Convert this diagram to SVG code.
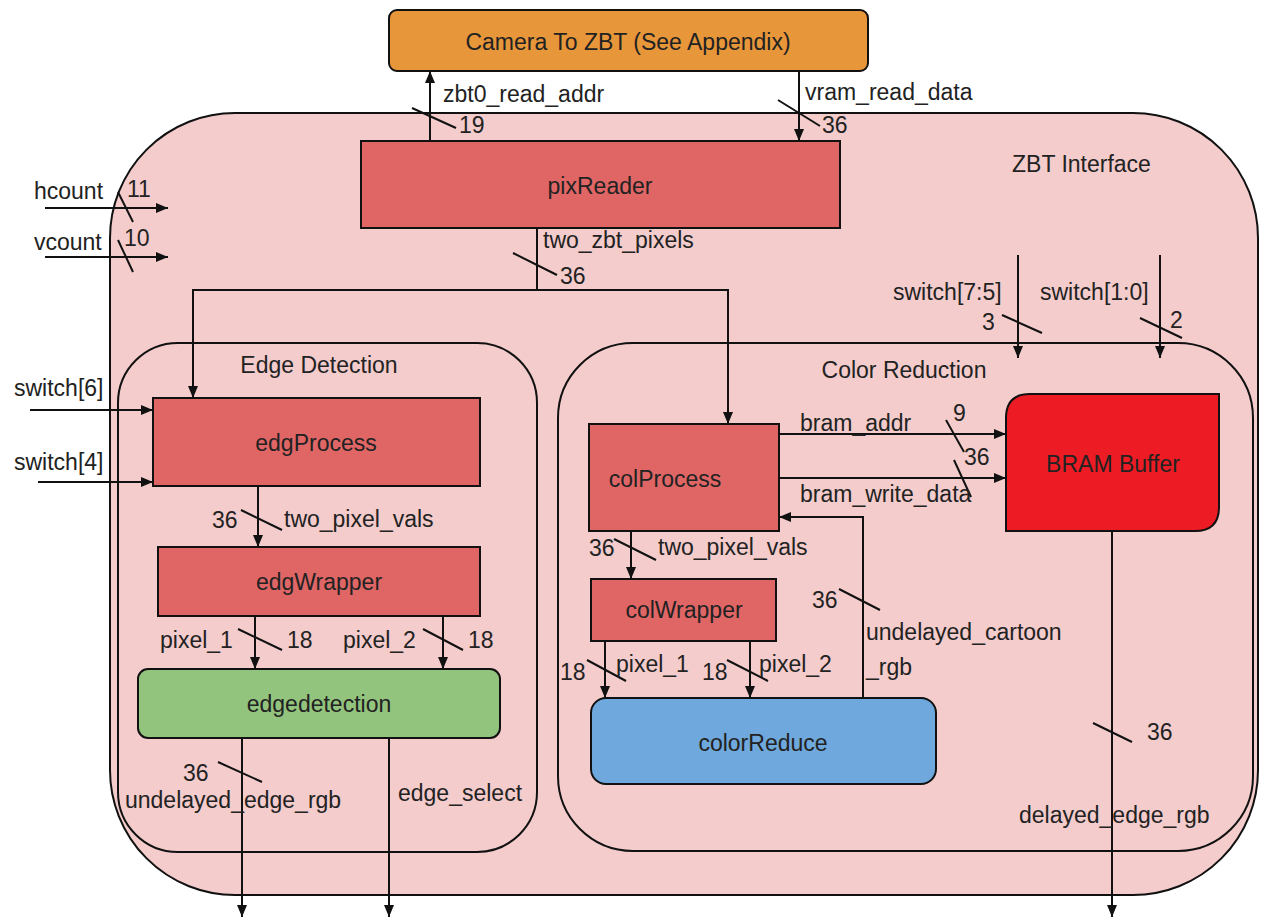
<svg xmlns="http://www.w3.org/2000/svg" width="1262" height="918" viewBox="0 0 1262 918">
<defs>
<marker id="ah" viewBox="0 0 12 10" refX="12" refY="5" markerWidth="12" markerHeight="10" markerUnits="userSpaceOnUse" orient="auto"><path d="M0,0 L12,5 L0,10 z" fill="#111"/></marker>
<style>
text{font-family:"Liberation Sans",Arial,sans-serif;font-size:23px;fill:#222}
.c{text-anchor:middle}
.ln{stroke:#111;stroke-width:2;fill:none}
.ar{stroke:#111;stroke-width:2;fill:none;marker-end:url(#ah)}
.sl{stroke:#111;stroke-width:2}
.box{stroke:#111;stroke-width:2}
</style>
</defs>
<rect width="1262" height="918" fill="#ffffff"/>
<g id="zbt_interface">
<rect x="110" y="113" width="1148" height="782" rx="125" fill="#F4CCCC" stroke="#111" stroke-width="2"/>
<text x="1012" y="172">ZBT Interface</text>
</g>
<g id="edge_detection">
<rect x="118" y="343" width="419" height="509" rx="60" fill="none" stroke="#111" stroke-width="2"/>
<text class="c" x="319" y="373">Edge Detection</text>
</g>
<g id="color_reduction">
<rect x="558" y="343" width="695" height="508" rx="75" fill="none" stroke="#111" stroke-width="2"/>
<text class="c" x="904" y="378">Color Reduction</text>
</g>
<g id="camera">
<rect class="box" x="389" y="10" width="479" height="61" rx="8" fill="#E8963A"/>
<text class="c" x="628" y="50">Camera To ZBT (See Appendix)</text>
</g>
<g id="pixReader">
<rect class="box" x="361" y="141" width="479" height="87" fill="#E06666"/>
<text class="c" x="600" y="194">pixReader</text>
</g>
<g id="edgProcess">
<rect class="box" x="153" y="398" width="327" height="88" fill="#E06666"/>
<text class="c" x="316" y="451">edgProcess</text>
</g>
<g id="edgWrapper">
<rect class="box" x="158" y="547" width="322" height="69" fill="#E06666"/>
<text class="c" x="319" y="590">edgWrapper</text>
</g>
<g id="edgedetection">
<rect class="box" x="138" y="669" width="362" height="69" rx="10" fill="#93C47D"/>
<text class="c" x="319" y="712">edgedetection</text>
</g>
<g id="colProcess">
<rect class="box" x="589" y="424" width="190" height="107" fill="#E06666"/>
<text class="c" x="665" y="487">colProcess</text>
</g>
<g id="colWrapper">
<rect class="box" x="591" y="579" width="185" height="62" fill="#E06666"/>
<text class="c" x="684" y="618">colWrapper</text>
</g>
<g id="colorReduce">
<rect class="box" x="591" y="698" width="345" height="86" rx="15" fill="#6FA8DC"/>
<text class="c" x="763" y="751">colorReduce</text>
</g>
<g id="bram">
<path class="box" d="M1030,394 L1219,394 L1219,507 Q1219,531 1195,531 L1006,531 L1006,418 Q1006,394 1030,394 Z" fill="#ED1C24"/>
<text class="c" x="1113" y="472">BRAM Buffer</text>
</g>
<g id="connectors">
<line class="ar" x1="430" y1="141" x2="430" y2="71"/>
<line class="sl" x1="412" y1="108" x2="456" y2="128"/>
<text x="443" y="102">zbt0_read_addr</text>
<text x="459" y="133">19</text>
<line class="ar" x1="799" y1="71" x2="799" y2="141"/>
<line class="sl" x1="778" y1="100" x2="820" y2="126"/>
<text x="805" y="100">vram_read_data</text>
<text x="822" y="133">36</text>
<line class="ar" x1="45" y1="208" x2="168" y2="208"/>
<line class="sl" x1="118" y1="192" x2="133" y2="222"/>
<text x="34" y="199">hcount</text>
<text x="127" y="197">11</text>
<line class="ar" x1="45" y1="257" x2="168" y2="257"/>
<line class="sl" x1="118" y1="240" x2="133" y2="272"/>
<text x="34" y="250">vcount</text>
<text x="124" y="246">10</text>
<polyline class="ln" points="537,228 537,290"/>
<line class="sl" x1="513" y1="253" x2="557" y2="275"/>
<text x="543" y="248">two_zbt_pixels</text>
<text x="560" y="284">36</text>
<polyline class="ar" points="537,290 193,290 193,398"/>
<polyline class="ar" points="537,290 728,290 728,424"/>
<line class="ar" x1="1018" y1="255" x2="1018" y2="358"/>
<line class="sl" x1="1002" y1="315" x2="1042" y2="333"/>
<text x="893" y="300">switch[7:5]</text>
<text x="982" y="330">3</text>
<line class="ar" x1="1160" y1="255" x2="1160" y2="358"/>
<line class="sl" x1="1140" y1="318" x2="1182" y2="338"/>
<text x="1040" y="300">switch[1:0]</text>
<text x="1170" y="328">2</text>
<line class="ar" x1="30" y1="410" x2="153" y2="410"/>
<text x="14" y="396">switch[6]</text>
<line class="ar" x1="38" y1="482" x2="153" y2="482"/>
<text x="14" y="470">switch[4]</text>
<line class="ar" x1="258" y1="486" x2="258" y2="547"/>
<line class="sl" x1="241" y1="510" x2="282" y2="530"/>
<text x="212" y="528">36</text>
<text x="284" y="527">two_pixel_vals</text>
<line class="ar" x1="255" y1="616" x2="255" y2="669"/>
<line class="sl" x1="238" y1="629" x2="282" y2="650"/>
<text x="160" y="648">pixel_1</text>
<text x="287" y="648">18</text>
<line class="ar" x1="443" y1="616" x2="443" y2="669"/>
<line class="sl" x1="423" y1="629" x2="463" y2="650"/>
<text x="343" y="648">pixel_2</text>
<text x="468" y="648">18</text>
<line class="ar" x1="242" y1="738" x2="242" y2="917"/>
<line class="sl" x1="218" y1="762" x2="262" y2="782"/>
<text x="183" y="781">36</text>
<text x="125" y="808">undelayed_edge_rgb</text>
<line class="ar" x1="389" y1="738" x2="389" y2="917"/>
<text x="398" y="801">edge_select</text>
<line class="ar" x1="779" y1="434" x2="1006" y2="434"/>
<line class="sl" x1="946" y1="420" x2="964" y2="452"/>
<text x="800" y="431">bram_addr</text>
<text x="953" y="421">9</text>
<line class="ar" x1="779" y1="478" x2="1006" y2="478"/>
<line class="sl" x1="954" y1="460" x2="971" y2="497"/>
<text x="800" y="502">bram_write_data</text>
<text x="964" y="465">36</text>
<line class="ar" x1="631" y1="531" x2="631" y2="579"/>
<line class="sl" x1="614" y1="539" x2="656" y2="560"/>
<text x="589" y="556">36</text>
<text x="658" y="555">two_pixel_vals</text>
<line class="ar" x1="605" y1="641" x2="605" y2="698"/>
<line class="sl" x1="587" y1="660" x2="626" y2="681"/>
<text x="560" y="680">18</text>
<text x="616" y="672">pixel_1</text>
<line class="ar" x1="750" y1="641" x2="750" y2="698"/>
<line class="sl" x1="727" y1="660" x2="768" y2="681"/>
<text x="702" y="680">18</text>
<text x="759" y="672">pixel_2</text>
<polyline class="ar" points="863,698 863,517 779,517"/>
<line class="sl" x1="839" y1="589" x2="880" y2="610"/>
<text x="812" y="608">36</text>
<text x="866" y="640">undelayed_cartoon</text>
<text x="866" y="675">_rgb</text>
<line class="ar" x1="1112" y1="531" x2="1112" y2="917"/>
<line class="sl" x1="1093" y1="723" x2="1132" y2="742"/>
<text x="1147" y="740">36</text>
<text x="1019" y="823">delayed_edge_rgb</text>
</g>
</svg>
